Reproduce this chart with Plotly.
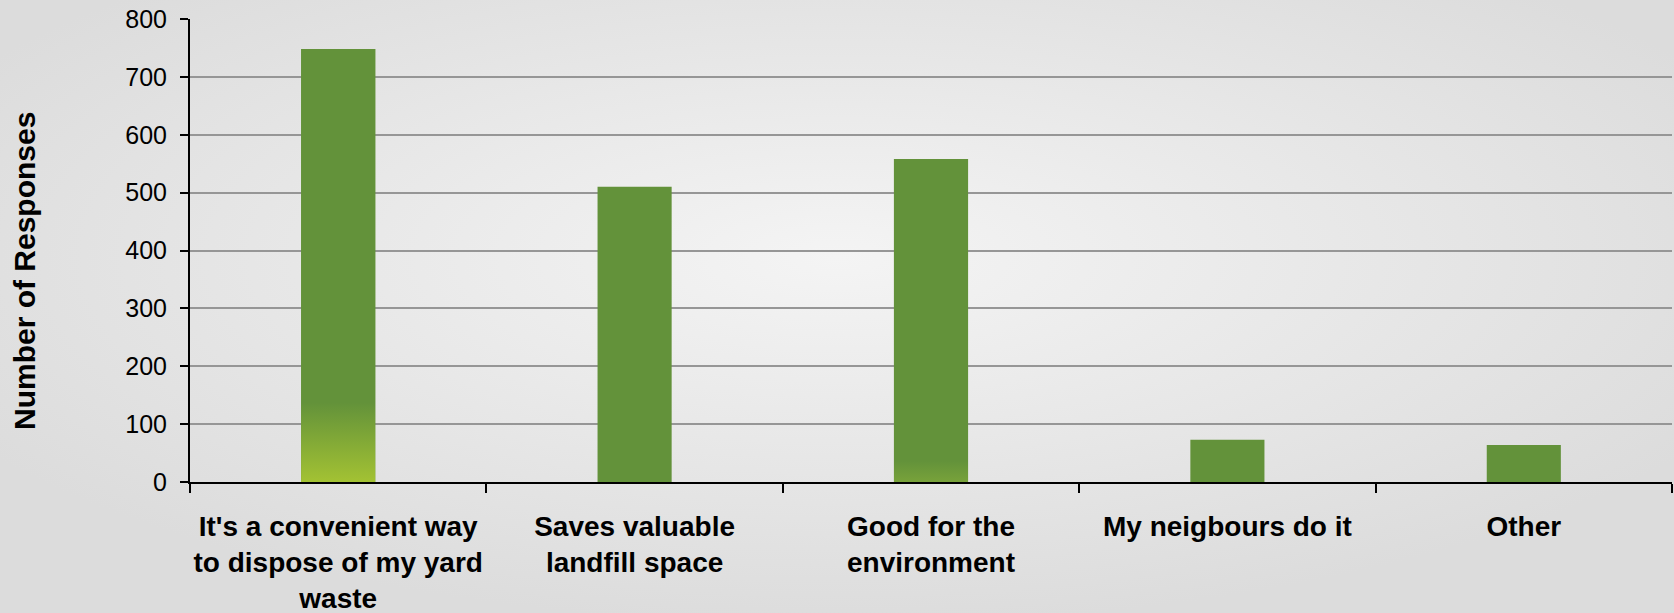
import base64
import plotly.graph_objects as go

# ---- data ----
categories = [
    "It's a convenient way<br>to dispose of my yard<br>waste",
    "Saves valuable<br>landfill space",
    "Good for the<br>environment",
    "My neigbours do it",
    "Other",
]
responses = [748, 510, 558, 73, 64]
y_ticks = [0, 100, 200, 300, 400, 500, 600, 700, 800]

# ---- style ----
W, H = 1674, 613
ML, MR, MT, MB = 190, 2, 19, 131
BAR_GREEN = "#63923a"
BARGAP = 0.75
# bottom-of-bar gradient tint per bar (colour at base, fraction of bar height it fades over)
gradients = {0: ("#a3c233", 0.183), 2: ("#78a23a", 0.065)}

fig = go.Figure()
fig.add_trace(go.Bar(
    x=categories, y=responses,
    marker=dict(color=BAR_GREEN, line=dict(width=0)),
    showlegend=False, hoverinfo="x+y",
))

# gradient overlays drawn on a hidden numeric x axis that overlays the categorical one
half = (1 - BARGAP) / 2
for i, (base_col, frac) in gradients.items():
    v = responses[i]
    fig.add_trace(go.Scatter(
        x=[i - half, i + half, i + half, i - half, i - half],
        y=[0, 0, v, v, 0],
        xaxis="x2", mode="lines", line=dict(width=0),
        fill="toself",
        fillgradient=dict(type="vertical", start=0, stop=v,
                          colorscale=[[0, base_col], [frac, BAR_GREEN], [1, BAR_GREEN]]),
        showlegend=False, hoverinfo="skip",
    ))

# radial gradient background as an svg image
svg = f'''<svg xmlns="http://www.w3.org/2000/svg" width="{W}" height="{H}" viewBox="0 0 {W} {H}" preserveAspectRatio="none">
<defs><radialGradient id="g" cx="50%" cy="42%" r="60%">
<stop offset="0%" stop-color="#f4f4f4"/><stop offset="100%" stop-color="#dcdcdc"/>
</radialGradient></defs><rect width="{W}" height="{H}" fill="url(#g)"/></svg>'''
src = "data:image/svg+xml;base64," + base64.b64encode(svg.encode()).decode()
pw = W - ML - MR
ph = H - MT - MB
fig.add_layout_image(dict(
    source=src, xref="paper", yref="paper",
    x=-ML / pw, y=1 + MT / ph, sizex=W / pw, sizey=H / ph,
    xanchor="left", yanchor="top", sizing="stretch", layer="below",
))

fig.add_annotation(
    text="<b>Number of Responses</b>", textangle=-90,
    xref="paper", yref="paper", x=(24 - ML) / pw, y=(H - MB - 271) / ph,
    xanchor="center", yanchor="middle", showarrow=False,
    font=dict(family="Liberation Sans, Arial", size=30, color="#000000"),
)

fig.update_layout(
    width=W, height=H,
    margin=dict(l=ML, r=MR, t=MT, b=MB, autoexpand=False),
    paper_bgcolor="#e4e4e4", plot_bgcolor="rgba(0,0,0,0)",
    bargap=BARGAP,
    font=dict(family="Liberation Sans, Arial", color="#000000"),
    xaxis=dict(
        type="category", showgrid=False, zeroline=False, automargin=False,
        showline=True, linecolor="#000000", linewidth=2,
        ticks="outside", tickson="boundaries", ticklen=9, tickwidth=2, tickcolor="#000000",
        tickangle=0, ticklabelstandoff=18,
        tickfont=dict(size=28, family="Liberation Sans, Arial", color="#000000", weight="bold"),
        fixedrange=True,
    ),
    xaxis2=dict(overlaying="x", range=[-0.5, len(categories) - 0.5], visible=False, fixedrange=True),
    yaxis=dict(
        range=[0, 800], tickvals=y_ticks, automargin=False,
        showgrid=True, gridcolor="#969696", gridwidth=2,
        zeroline=False, showline=True, linecolor="#000000", linewidth=2,
        ticks="outside", ticklen=8, tickwidth=2, tickcolor="#000000",
        tickfont=dict(size=25, family="Liberation Sans, Arial", color="#000000"),
        ticklabelstandoff=8,
        fixedrange=True,
    ),
)

fig.write_html("out.html", config={"displayModeBar": False},
               post_script="document.body.style.margin='0';")
